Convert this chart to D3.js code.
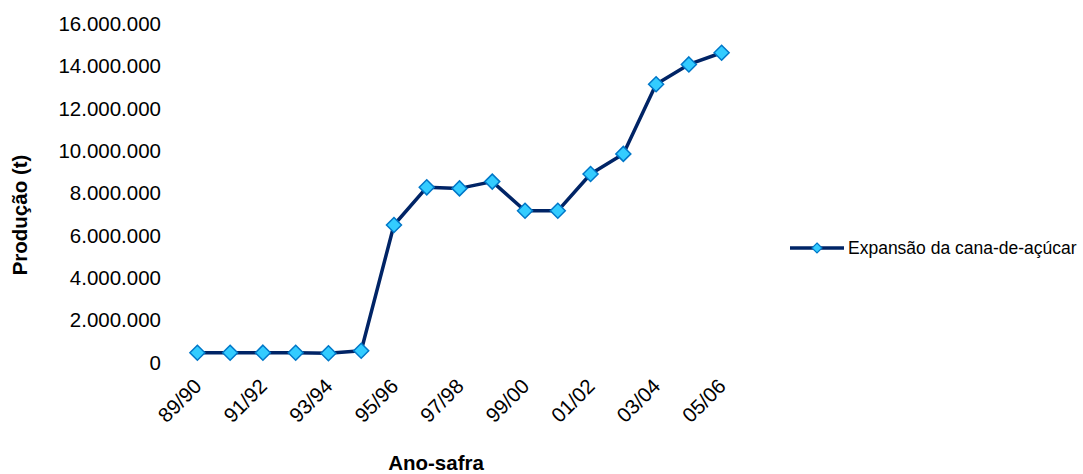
<!DOCTYPE html>
<html>
<head>
<meta charset="utf-8">
<script src="https://cdn.jsdelivr.net/npm/d3@7"></script>
<style>
  html, body { margin: 0; padding: 0; background: #fff; }
  svg { display: block; font-family: "Liberation Sans", Arial, sans-serif; }
</style>
</head>
<body>
<svg id="chart" width="1083" height="474"></svg>
<script>
// Sugarcane expansion by harvest season (tonnes)
const categories = ["89/90","90/91","91/92","92/93","93/94","94/95","95/96","96/97","97/98",
                    "98/99","99/00","00/01","01/02","02/03","03/04","04/05","05/06"];
const production = [463000, 463000, 465000, 460000, 435000, 558000, 6500000, 8280000, 8230000,
                    8550000, 7170000, 7170000, 8910000, 9860000, 13150000, 14090000, 14640000];
const yTicks = [0, 2000000, 4000000, 6000000, 8000000, 10000000, 12000000, 14000000, 16000000];
const xTickLabels = ["89/90","91/92","93/94","95/96","97/98","99/00","01/02","03/04","05/06"];
const seriesName = "Expansão da cana-de-açúcar";
const xTitle = "Ano-safra";
const yTitle = "Produção (t)";

const svg = d3.select("#chart");
const plot = { left: 181, right: 738, top: 24, bottom: 362.5 };

const x = d3.scalePoint()
  .domain(categories)
  .range([plot.left, plot.right])
  .padding(0.5);

const y = d3.scaleLinear()
  .domain([0, 16000000])
  .range([plot.bottom, plot.top]);

const ptBR = d3.formatLocale({ decimal: ",", thousands: ".", grouping: [3], currency: ["", ""] });
const fmt = ptBR.format(",d");

// Y axis (labels only)
const yAxis = svg.append("g")
  .attr("transform", `translate(${plot.left},0)`)
  .call(d3.axisLeft(y).tickValues(yTicks).tickFormat(fmt).tickSize(0).tickPadding(20));
yAxis.select(".domain").remove();
yAxis.selectAll("text")
  .attr("font-family", "Liberation Sans, Arial, sans-serif")
  .attr("font-size", 20.5)
  .attr("fill", "#000");

// X axis (rotated labels)
const xAxis = svg.append("g")
  .attr("transform", `translate(0,${plot.bottom})`)
  .call(d3.axisBottom(x).tickValues(xTickLabels).tickSize(0).tickPadding(0));
xAxis.select(".domain").remove();
xAxis.selectAll("text")
  .attr("font-family", "Liberation Sans, Arial, sans-serif")
  .attr("font-size", 20.5)
  .attr("fill", "#000")
  .attr("text-anchor", "end")
  .attr("y", 0)
  .attr("dy", 0)
  .attr("transform", "translate(5,25) rotate(-45)");

// Line
const line = d3.line()
  .x((d, i) => x(categories[i]))
  .y(d => y(d));

svg.append("path")
  .datum(production)
  .attr("d", line)
  .attr("fill", "none")
  .attr("stroke", "#002466")
  .attr("stroke-width", 3.5)
  .attr("stroke-linejoin", "round");

// Diamond markers
const diamond = r => `M0,${-r}L${r},0L0,${r}L${-r},0Z`;
svg.append("g").selectAll("path")
  .data(production)
  .join("path")
  .attr("transform", (d, i) => `translate(${x(categories[i])},${y(d)})`)
  .attr("d", diamond(7.5))
  .attr("fill", "#33CCFF")
  .attr("stroke", "#0077C8")
  .attr("stroke-width", 1.5);

// Axis titles
svg.append("text")
  .attr("x", 436)
  .attr("y", 463)
  .attr("dy", "0.35em")
  .attr("text-anchor", "middle")
  .attr("font-size", 20.5)
  .attr("font-weight", "bold")
  .text(xTitle);

svg.append("text")
  .attr("transform", "translate(20,215) rotate(-90)")
  .attr("dy", "0.35em")
  .attr("text-anchor", "middle")
  .attr("font-size", 20.5)
  .attr("font-weight", "bold")
  .text(yTitle);

// Legend
const legend = svg.append("g").attr("transform", "translate(790,248)");
legend.append("line")
  .attr("x1", 0).attr("x2", 54)
  .attr("y1", 0).attr("y2", 0)
  .attr("stroke", "#002466")
  .attr("stroke-width", 3.5);
legend.append("path")
  .attr("transform", "translate(27,0)")
  .attr("d", diamond(5))
  .attr("fill", "#33CCFF")
  .attr("stroke", "#0077C8")
  .attr("stroke-width", 1.2);
legend.append("text")
  .attr("x", 58)
  .attr("y", 0)
  .attr("dy", "0.35em")
  .attr("font-size", 17.5)
  .text(seriesName);
</script>
</body>
</html>
